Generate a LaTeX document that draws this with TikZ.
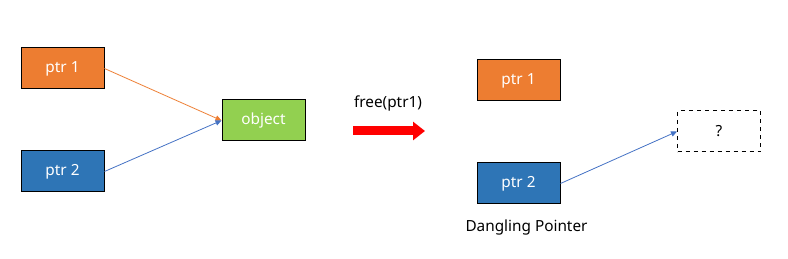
\documentclass[tikz,border=0pt]{standalone}
\usepackage{fontspec}
\setmainfont{Noto Sans}
\usepackage{tikz}
\usetikzlibrary{arrows.meta,positioning}
\definecolor{ptrorange}{HTML}{ED7D31}
\definecolor{ptrblue}{HTML}{2E75B6}
\definecolor{objgreen}{HTML}{92D050}
\definecolor{linkblue}{HTML}{4472C4}
\tikzset{
  ptrbox/.style={rectangle,draw=black,line width=0.75pt,minimum width=62.25pt,minimum height=30.75pt,inner sep=0pt,text=white,font=\fontsize{11.5}{13}\selectfont},
  ghostbox/.style={ptrbox,dashed,fill=white,text=black},
  link/.style={-{Triangle[width=4pt,length=4.5pt]},line width=0.6pt},
}

\begin{document}
\begin{tikzpicture}[x=0.75pt,y=-0.75pt]
  \useasboundingbox (0,0) rectangle (788,259);
  % before free
  \node[ptrbox,fill=ptrorange] (P1) at (62.5,68.5) {ptr 1};
  \node[ptrbox,fill=ptrblue] (P2) at (62.5,171.5) {ptr 2};
  \node[ptrbox,fill=objgreen] (O) at (263.5,120.5) {object};
  \draw[link,ptrorange] (P1.east) -- (O.west);
  \draw[link,linkblue] (P2.east) -- (O.west);
  % free call
  \coordinate (FL) at (353,131);
  \coordinate (FR) at (425,131);
  \draw[red,line width=6.75pt,-{Triangle[width=13.5pt,length=9pt]}] (FL) -- (FR);
  \node[font=\fontsize{11.5}{13}\selectfont] (F) at (388,103) {free(ptr1)};
  % after free
  \node[ptrbox,fill=ptrorange] (Q1) at (518.5,80.5) {ptr 1};
  \node[ptrbox,fill=ptrblue] (Q2) at (518.5,183.5) {ptr 2};
  \node[ghostbox] (X) at (719,131.5) {?};
  \draw[link,linkblue] (Q2.east) -- (X.west);
  \node[below=8pt of Q2,xshift=6pt,font=\fontsize{11.5}{13}\selectfont] (D) {Dangling Pointer};
\end{tikzpicture}
\end{document}
